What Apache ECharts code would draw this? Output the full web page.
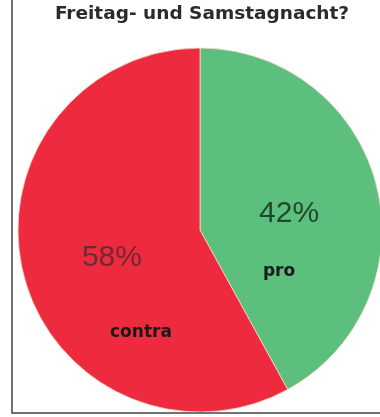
<!DOCTYPE html>
<html>
<head>
<meta charset="utf-8">
<script src="https://cdn.jsdelivr.net/npm/echarts@6/dist/echarts.min.js"></script>
<style>
  html, body { margin: 0; padding: 0; background: #fff; }
  #chart { width: 380px; height: 417px; }
</style>
</head>
<body>
<div id="chart"></div>
<script>
// Daten
const categories = ["pro", "contra"];
const values = [42, 58];
const sliceColors = ["#5dbf7d", "#ee2a3e"];
const percentColors = ["#1d4a2c", "#6e2a30"];

// Label-Verschiebungen (dx, dy) gegenüber der Standardposition "inside"
const percentShift = [[-2, 7], [3, 4]];
const nameShift = [[-12, 65], [32, 79]];

const chart = echarts.init(document.getElementById("chart"));

const pieData = categories.map((name, i) => ({
  name: name,
  value: values[i],
  itemStyle: { color: sliceColors[i] },
  label: { color: percentColors[i] },
}));

chart.setOption({
  animation: false,
  title: {
    text: "Freitag- und Samstagnacht?",
    left: 197,
    textAlign: "center",
    top: 0,
    textStyle: {
      fontFamily: "DejaVu Sans",
      fontWeight: "bold",
      fontSize: 18.5,
      color: "#2b2b2b",
    },
  },
  graphic: [
    {
      type: "polyline",
      shape: { points: [[12, 0], [12, 413], [380, 413]] },
      style: { stroke: "#444", lineWidth: 1.5, fill: null },
      z: 10,
    },
  ],
  series: [
    {
      name: "Anteil",
      type: "pie",
      center: [200, 230],
      radius: 182,
      startAngle: 90,
      clockwise: true,
      itemStyle: { borderColor: "#f4dcc8", borderWidth: 0.8 },
      label: {
        show: true,
        position: "inside",
        formatter: "{d}%",
        fontFamily: "Liberation Sans",
        fontSize: 30,
      },
      labelLayout: (p) => ({ dx: percentShift[p.dataIndex][0], dy: percentShift[p.dataIndex][1] }),
      emphasis: { disabled: true },
      data: pieData,
    },
    {
      name: "Namen",
      type: "pie",
      center: [200, 230],
      radius: 182,
      startAngle: 90,
      clockwise: true,
      silent: true,
      itemStyle: { color: "transparent" },
      label: {
        show: true,
        position: "inside",
        formatter: "{b}",
        fontFamily: "DejaVu Sans",
        fontWeight: "bold",
        fontSize: 17,
        color: "#1a1a1a",
      },
      labelLayout: (p) => ({ dx: nameShift[p.dataIndex][0], dy: nameShift[p.dataIndex][1] }),
      data: categories.map((name, i) => ({ name: name, value: values[i] })),
    },
  ],
});
</script>
</body>
</html>
